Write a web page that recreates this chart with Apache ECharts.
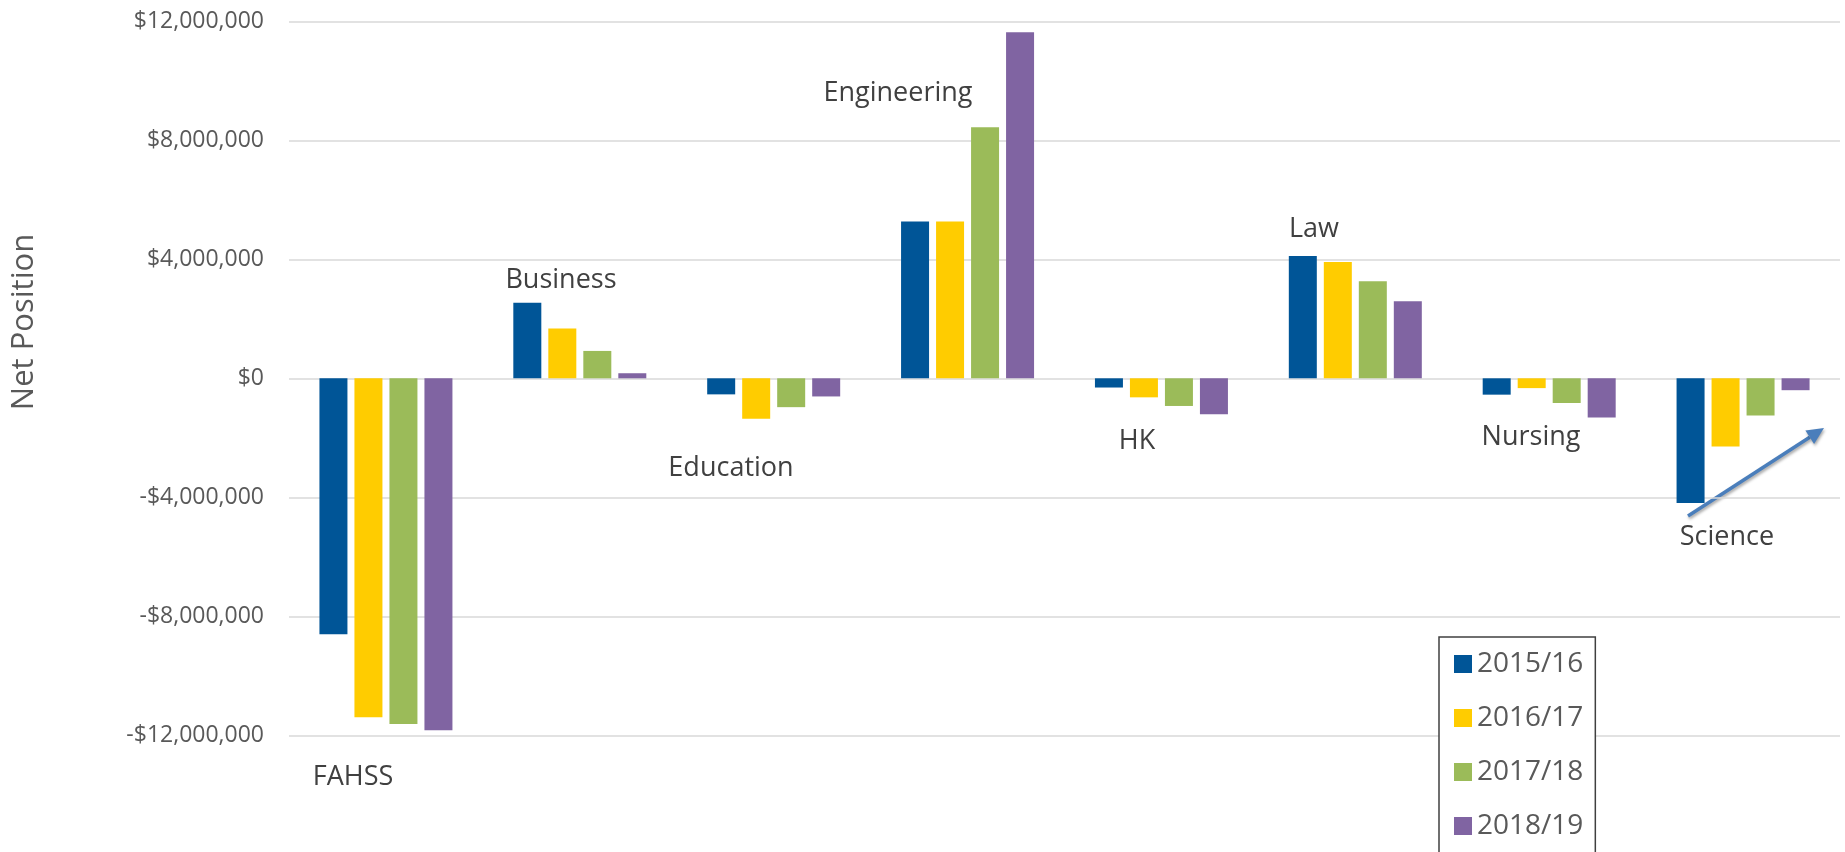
<!DOCTYPE html>
<html>
<head>
<meta charset="utf-8">
<script src="https://cdn.jsdelivr.net/npm/echarts@6/dist/echarts.min.js"></script>
<style>
html,body{margin:0;padding:0;background:#fff;}
#c{width:1845px;height:852px;}
</style>
</head>
<body>
<div id="c"></div>
<script>
const categories = ['FAHSS','Business','Education','Engineering','HK','Law','Nursing','Science'];
const years = ['2015/16','2016/17','2017/18','2018/19'];
const y2015 = [-8600000, 2540000, -540000, 5270000, -310000, 4110000, -550000, -4190000];
const y2016 = [-11390000, 1670000, -1360000, 5270000, -640000, 3910000, -330000, -2290000];
const y2017 = [-11620000, 920000, -970000, 8440000, -930000, 3260000, -830000, -1250000];
const y2018 = [-11830000, 170000, -610000, 11630000, -1210000, 2590000, -1320000, -400000];
const yTicks = { min: -12000000, max: 12000000, interval: 4000000 };

const colors = ['#005597', '#FFCC00', '#9BBB59', '#8064A2'];
const seriesData = [y2015, y2016, y2017, y2018];

// annotation text placement (pixels)
const labelPos = [
  [353, 775], [561, 278], [731, 466], [898, 91],
  [1137, 439], [1314, 227], [1531, 435], [1727, 535]
];

function fmt(v){
  if (v === 0) return '$0';
  const s = Math.abs(v).toString().replace(/\B(?=(\d{3})+(?!\d))/g, ',');
  return (v < 0 ? '-$' : '$') + s;
}

const FONT = '"Open Sans", "Noto Sans", sans-serif';

const graphics = categories.map((c, i) => ({
  type: 'text',
  x: labelPos[i][0],
  y: labelPos[i][1] + 2,
  silent: true,
  style: {
    text: c,
    fill: '#404040',
    font: '27px ' + FONT,
    align: 'center', verticalAlign: 'middle',
    textAlign: 'center', textVerticalAlign: 'middle'
  }
}));

graphics.push({
  type: 'text',
  x: 24, y: 322,
  rotation: Math.PI / 2,
  silent: true,
  style: {
    text: 'Net Position',
    fill: '#595959',
    font: '31px ' + FONT,
    align: 'center', verticalAlign: 'middle',
    textAlign: 'center', textVerticalAlign: 'middle'
  }
});

// arrow annotation
const tail = [1688, 516], tip = [1824, 428];
const dx = tip[0] - tail[0], dy = tip[1] - tail[1];
const len = Math.sqrt(dx*dx + dy*dy);
const ux = dx / len, uy = dy / len;
const hl = 17, hw = 8;
const bx = tip[0] - ux*hl, by = tip[1] - uy*hl;
const px = -uy, py = ux;
const shadow = { shadowBlur: 3, shadowColor: 'rgba(0,0,0,0.35)', shadowOffsetX: 1, shadowOffsetY: 2 };
graphics.push({
  type: 'line', silent: true,
  shape: { x1: tail[0], y1: tail[1], x2: bx, y2: by },
  style: Object.assign({ stroke: '#4A7EBB', lineWidth: 3.5 }, shadow)
});
graphics.push({
  type: 'polygon', silent: true,
  shape: { points: [tip, [bx + px*hw, by + py*hw], [bx - px*hw, by - py*hw]] },
  style: Object.assign({ fill: '#4A7EBB' }, shadow)
});

const chart = echarts.init(document.getElementById('c'));
chart.setOption({
  animation: false,
  backgroundColor: '#fff',
  grid: { left: 289, right: 5, top: 21.3, bottom: 116.7, containLabel: false },
  xAxis: {
    type: 'category',
    data: categories,
    axisLine: { show: false },
    axisTick: { show: false },
    axisLabel: { show: false },
    splitLine: { show: false }
  },
  yAxis: {
    type: 'value',
    min: yTicks.min, max: yTicks.max, interval: yTicks.interval,
    axisLine: { show: false },
    axisTick: { show: false },
    axisLabel: {
      formatter: fmt,
      color: '#595959',
      fontSize: 23,
      fontFamily: FONT,
      margin: 25
    },
    splitLine: { lineStyle: { color: '#D9D9D9', width: 1.5 } }
  },
  legend: {
    data: years,
    orient: 'vertical',
    left: 1439, top: 637,
    width: 162, height: 300,
    padding: [12, 12, 40, 15],
    itemWidth: 18, itemHeight: 18, itemGap: 24,
    icon: 'rect',
    selectedMode: false,
    backgroundColor: '#fff',
    borderColor: '#404040', borderWidth: 1.5,
    textStyle: { fontSize: 28, lineHeight: 30, color: '#595959', fontFamily: FONT }
  },
  series: years.map((y, i) => ({
    name: y,
    type: 'bar',
    data: seriesData[i],
    barWidth: 28,
    barGap: '25%',
    itemStyle: { color: colors[i] }
  })),
  graphic: graphics
});
</script>
</body>
</html>
